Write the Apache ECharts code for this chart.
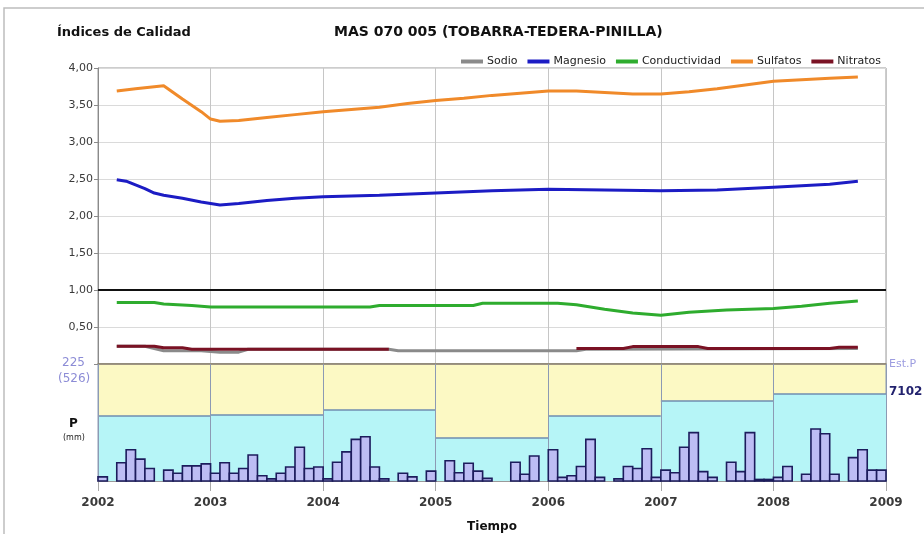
<!DOCTYPE html>
<html>
<head>
<meta charset="utf-8">
<script src="https://cdn.jsdelivr.net/npm/echarts@6/dist/echarts.min.js"></script>
<style>
  html, body { margin: 0; padding: 0; background: #ffffff; }
  #chart { width: 924px; height: 534px; }
</style>
</head>
<body>
<div id="chart"></div>
<script>
// Quality indices (dimensionless), sampled as [month, value]
const sodio = [
  ['2002-03', 0.24], ['2002-06', 0.24], ['2002-08', 0.18], ['2002-12', 0.18],
  ['2003-02', 0.16], ['2003-04', 0.16], ['2003-05', 0.20], ['2004-08', 0.20],
  ['2004-09', 0.18], ['2006-04', 0.18], ['2006-05', 0.20], ['2008-10', 0.21]
];
const magnesio = [
  ['2002-03', 2.49], ['2002-04', 2.47], ['2002-06', 2.37], ['2002-07', 2.31],
  ['2002-08', 2.28], ['2002-10', 2.24], ['2002-12', 2.19], ['2003-02', 2.15],
  ['2003-04', 2.17], ['2003-07', 2.21], ['2003-10', 2.24], ['2004-01', 2.26],
  ['2004-07', 2.28], ['2005-01', 2.31], ['2005-07', 2.34], ['2006-01', 2.36],
  ['2006-07', 2.35], ['2007-01', 2.34], ['2007-07', 2.35], ['2008-01', 2.39],
  ['2008-07', 2.43], ['2008-10', 2.47]
];
const conductividad = [
  ['2002-03', 0.83], ['2002-07', 0.83], ['2002-08', 0.81], ['2002-11', 0.79],
  ['2003-01', 0.77], ['2004-06', 0.77], ['2004-07', 0.79], ['2005-05', 0.79],
  ['2005-06', 0.82], ['2006-02', 0.82], ['2006-04', 0.80], ['2006-07', 0.74],
  ['2006-10', 0.69], ['2007-01', 0.66], ['2007-04', 0.70], ['2007-08', 0.73],
  ['2008-01', 0.75], ['2008-04', 0.78], ['2008-07', 0.82], ['2008-10', 0.85]
];
const sulfatos = [
  ['2002-03', 3.69], ['2002-05', 3.72], ['2002-08', 3.76], ['2002-10', 3.58],
  ['2002-12', 3.41], ['2003-01', 3.31], ['2003-02', 3.28], ['2003-04', 3.29],
  ['2003-07', 3.33], ['2003-10', 3.37], ['2004-01', 3.41], ['2004-04', 3.44],
  ['2004-07', 3.47], ['2004-10', 3.52], ['2005-01', 3.56], ['2005-04', 3.59],
  ['2005-07', 3.63], ['2005-10', 3.66], ['2006-01', 3.69], ['2006-04', 3.69],
  ['2006-07', 3.67], ['2006-10', 3.65], ['2007-01', 3.65], ['2007-04', 3.68],
  ['2007-07', 3.72], ['2007-10', 3.77], ['2008-01', 3.82], ['2008-04', 3.84],
  ['2008-07', 3.86], ['2008-10', 3.88]
];
const nitratos = [
  ['2002-03', 0.24], ['2002-07', 0.24], ['2002-08', 0.22], ['2002-10', 0.22],
  ['2002-11', 0.20], ['2004-08', 0.20], ['2004-09', null], ['2006-03', null],
  ['2006-04', 0.21], ['2006-09', 0.21], ['2006-10', 0.235], ['2007-05', 0.235],
  ['2007-06', 0.21], ['2008-07', 0.21], ['2008-08', 0.225], ['2008-10', 0.225]
];

// Precipitation, station 7102
const years = [2002, 2003, 2004, 2005, 2006, 2007, 2008];
const annualPrecip = [292, 297, 319, 193, 292, 360, 391];       // mm per year
const monthlyPrecip = [                                           // mm per month, Jan..Dec
  [8, 0, 35, 60, 42, 24, 0, 21, 15, 29, 29, 33],
  [15, 35, 15, 24, 50, 10, 4, 15, 27, 65, 24, 27],
  [4, 36, 56, 80, 85, 27, 4, 0, 15, 8, 0, 19],
  [0, 39, 16, 34, 19, 5, 0, 0, 36, 13, 48, 0],
  [60, 7, 10, 28, 80, 7, 0, 4, 28, 24, 62, 7],
  [21, 16, 65, 93, 18, 7, 0, 36, 18, 93, 3, 3],
  [7, 28, 0, 13, 100, 91, 13, 0, 45, 60, 21, 21]
];
const monthlyMax = 225;
const annualMax = 526;
const stationId = '7102';

const yearTicks = ['2002', '2003', '2004', '2005', '2006', '2007', '2008', '2009'];
const indexTicks = ['0,50', '1,00', '1,50', '2,00', '2,50', '3,00', '3,50', '4,00'];

// "YYYY-MM" -> decimal year at the start of that month
function toYear(ym) {
  const [y, m] = ym.split('-').map(Number);
  return y + (m - 1) / 12;
}
function toPoints(arr) {
  return arr.map(([d, v]) => [toYear(d), v === null ? '-' : v]);
}

const monthlyData = [];
years.forEach((y, i) => {
  monthlyPrecip[i].forEach((v, m) => monthlyData.push([y + m / 12, v]));
});
const annualData = years.map((y, i) => [y, annualPrecip[i]]);

const xMin = Number(yearTicks[0]);
const xMax = Number(yearTicks[yearTicks.length - 1]);
const FONT = 'DejaVu Sans';

const chart = echarts.init(document.getElementById('chart'), null, { renderer: 'canvas' });

function lineSeries(name, data, color) {
  return {
    name, type: 'line', xAxisIndex: 0, yAxisIndex: 0,
    data: toPoints(data), showSymbol: false, symbol: 'none',
    connectNulls: false,
    lineStyle: { color, width: 3 }, itemStyle: { color },
    z: 3
  };
}

const option = {
  backgroundColor: '#ffffff',
  animation: false,
  textStyle: { fontFamily: FONT },
  title: [
    { text: 'Índices de Calidad', left: 52, top: 21,
      textStyle: { fontFamily: FONT, fontSize: 13, fontWeight: 'bold', color: '#111' } },
    { text: 'MAS 070 005 (TOBARRA-TEDERA-PINILLA)', left: 329, top: 20,
      textStyle: { fontFamily: FONT, fontSize: 14, fontWeight: 'bold', color: '#111' } }
  ],
  legend: {
    right: 38, top: 51,
    icon: 'rect', itemWidth: 22, itemHeight: 4, itemGap: 10,
    textStyle: { fontFamily: FONT, fontSize: 11, color: '#222', padding: [0, 0, 0, -1] },
    data: ['Sodio', 'Magnesio', 'Conductividad', 'Sulfatos', 'Nitratos']
  },
  grid: [
    { left: 98, top: 68, width: 788, height: 296, show: true,
      backgroundColor: '#ffffff', borderColor: '#9a9a9a', borderWidth: 1 },
    { left: 98, top: 364, width: 788, height: 117, show: true,
      backgroundColor: '#fcf9c4', borderColor: '#8c9ab4', borderWidth: 1 }
  ],
  xAxis: [
    { type: 'value', gridIndex: 0, min: xMin, max: xMax, interval: 1,
      axisLabel: { show: false }, axisTick: { show: false },
      axisLine: { show: true, lineStyle: { color: '#8a7f66', width: 1.5 } },
      splitLine: { show: true, lineStyle: { color: '#c6c6c6', width: 1 } } },
    { type: 'value', gridIndex: 1, min: xMin, max: xMax, interval: 1, z: 3,
      axisLabel: { show: true, margin: 16, fontFamily: FONT, fontSize: 12, fontWeight: 'bold',
        color: '#3a3a3a', formatter: v => yearTicks[Math.round(v - xMin)] },
      axisTick: { show: true, length: 10, lineStyle: { color: '#a8a8a8' } },
      axisLine: { show: true, lineStyle: { color: '#9a9a9a' } },
      splitLine: { show: true, lineStyle: { color: '#8c9ab4', width: 1 } },
      name: 'Tiempo', nameLocation: 'middle', nameGap: 40,
      nameTextStyle: { fontFamily: FONT, fontSize: 12, fontWeight: 'bold', color: '#111' } }
  ],
  yAxis: [
    { type: 'value', gridIndex: 0, min: 0, max: 4, interval: 0.5,
      axisLine: { show: true, lineStyle: { color: '#8a8a8a' } },
      axisTick: { show: true, length: 4, lineStyle: { color: '#8a8a8a' } },
      axisLabel: { margin: 5, fontFamily: FONT, fontSize: 11, color: '#3a3a3a',
        formatter: v => (v === 0 ? '' : indexTicks[Math.round(v / 0.5) - 1]) },
      splitLine: { show: true, lineStyle: { color: '#dadada' } } },
    { type: 'value', gridIndex: 1, min: 0, max: monthlyMax, show: false },
    { type: 'value', gridIndex: 1, min: 0, max: annualMax, show: false }
  ],
  series: [
    lineSeries('Sodio', sodio, '#8a8a8a'),
    lineSeries('Magnesio', magnesio, '#1c1cc4'),
    lineSeries('Conductividad', conductividad, '#2eac2e'),
    lineSeries('Sulfatos', sulfatos, '#f08a2a'),
    Object.assign(lineSeries('Nitratos', nitratos, '#7a1224'), {
      markLine: {
        silent: true, symbol: 'none', label: { show: false },
        lineStyle: { color: '#111', width: 2, type: 'solid' },
        data: [{ yAxis: 1 }]
      }
    }),
    {
      // annual precipitation, drawn as one step per year
      type: 'custom', xAxisIndex: 1, yAxisIndex: 2, z: 1,
      data: annualData,
      encode: { x: 0, y: 1 },
      renderItem: (params, api) => {
        const y0 = api.value(0), v = api.value(1);
        const p0 = api.coord([y0, 0]);
        const p1 = api.coord([y0 + 1, v]);
        return {
          type: 'group',
          children: [
            { type: 'rect', shape: { x: p0[0], y: p1[1], width: p1[0] - p0[0], height: p0[1] - p1[1] },
              style: { fill: '#b6f5f7' } },
            { type: 'line', shape: { x1: p0[0], y1: p1[1], x2: p1[0], y2: p1[1] },
              style: { stroke: '#6f8cb0', lineWidth: 1.5 } }
          ]
        };
      }
    },
    {
      // monthly precipitation bars
      type: 'custom', xAxisIndex: 1, yAxisIndex: 1, z: 5,
      data: monthlyData,
      encode: { x: 0, y: 1 },
      renderItem: (params, api) => {
        const x0 = api.value(0), v = api.value(1);
        if (!v) return null;
        const p0 = api.coord([x0, 0]);
        const p1 = api.coord([x0 + 1 / 12, v]);
        return {
          type: 'rect',
          shape: { x: p0[0], y: p1[1], width: p1[0] - p0[0], height: p0[1] - p1[1] },
          style: { fill: '#bdbdf4', stroke: '#1c1c5c', lineWidth: 1.6 }
        };
      }
    }
  ],
  graphic: [
    { type: 'rect', silent: true, z: -10,
      shape: { x: 4, y: 8, width: 960, height: 560 },
      style: { fill: null, stroke: '#bdbdbd', lineWidth: 1.5 } },
    { type: 'text', left: 62, top: 357,
      style: { text: String(monthlyMax), font: '12px "DejaVu Sans"', fill: '#8c8cd6' } },
    { type: 'text', left: 58, top: 373,
      style: { text: '(' + annualMax + ')', font: '12px "DejaVu Sans"', fill: '#8c8cd6' } },
    { type: 'text', left: 69, top: 418,
      style: { text: 'P', font: 'bold 12px "DejaVu Sans"', fill: '#111' } },
    { type: 'text', left: 63, top: 434,
      style: { text: '(mm)', font: '8px "DejaVu Sans"', fill: '#222' } },
    { type: 'text', left: 889, top: 359,
      style: { text: 'Est.P', font: '11px "DejaVu Sans"', fill: '#9c9ce0' } },
    { type: 'text', left: 889, top: 386,
      style: { text: stationId, font: 'bold 12px "DejaVu Sans"', fill: '#22226e' } }
  ]
};

chart.setOption(option);
</script>
</body>
</html>
